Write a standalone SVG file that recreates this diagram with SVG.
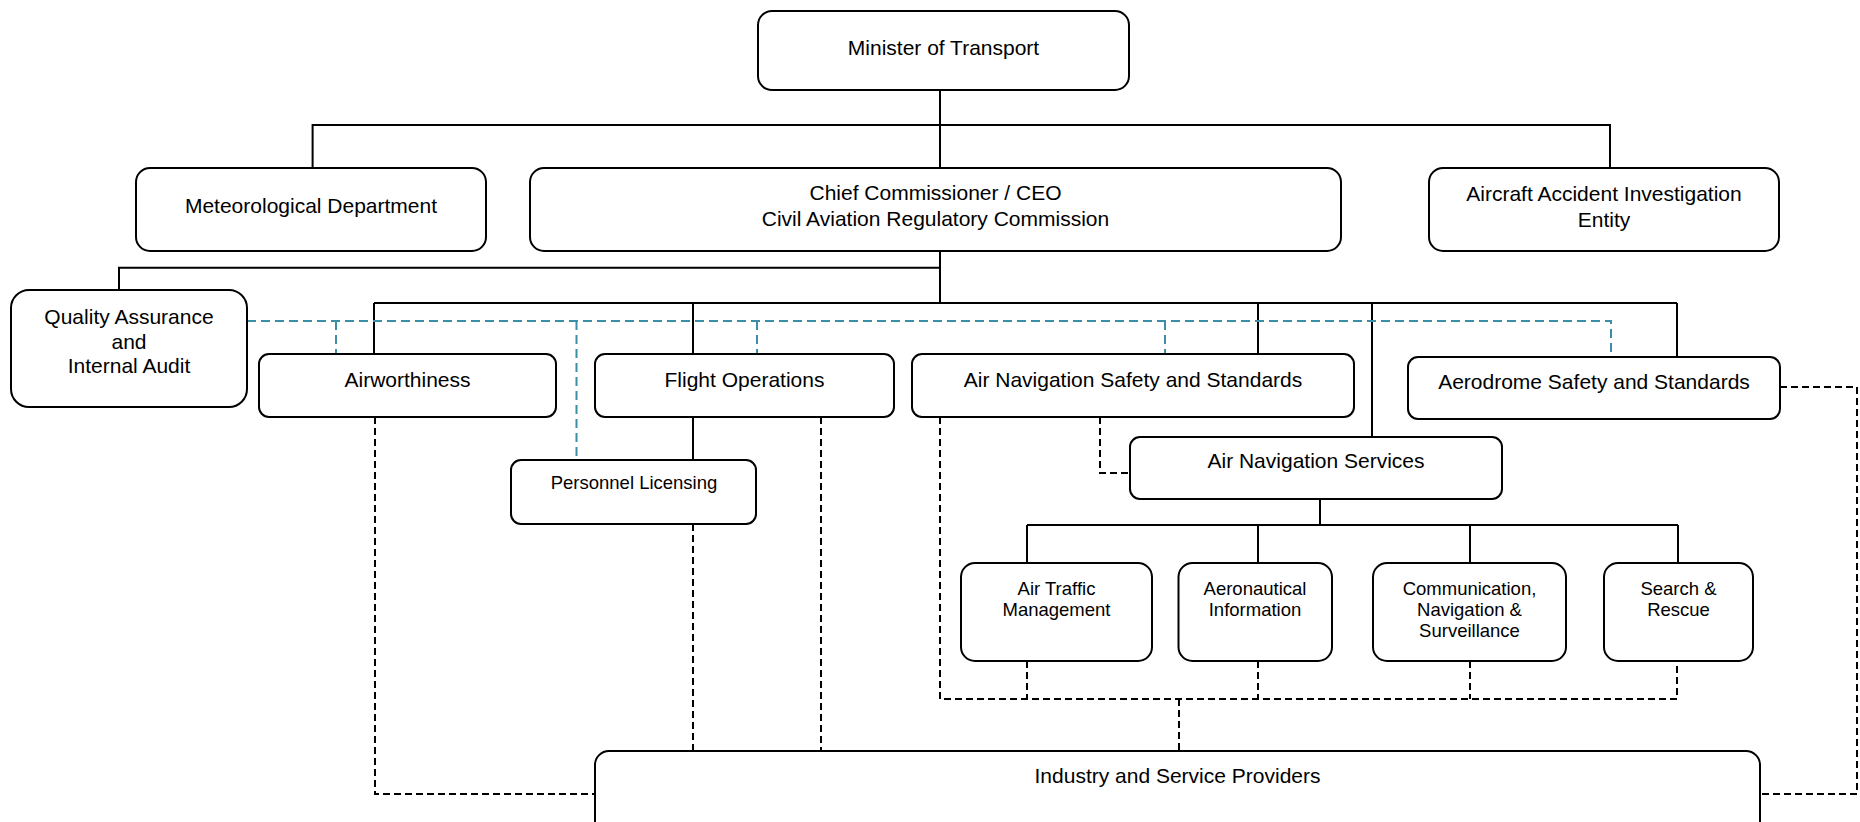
<svg xmlns="http://www.w3.org/2000/svg" width="1860" height="822" viewBox="0 0 1860 822">
<style>
.box{fill:#fff;stroke:#000;stroke-width:2}
.t{font-family:"Liberation Sans",Arial,sans-serif;font-size:21px;fill:#000;text-anchor:middle}
.s{font-family:"Liberation Sans",Arial,sans-serif;font-size:18.5px;fill:#000;text-anchor:middle}
.solid{fill:none;stroke:#000;stroke-width:2}
.dash{fill:none;stroke:#000;stroke-width:2;stroke-dasharray:7 4}
.teal{fill:none;stroke:#3b8ea5;stroke-width:2;stroke-dasharray:9 5}
</style>
<rect width="1860" height="822" fill="#fff"/>
<g id="connectors">
<path class="solid" d="M940 90V168M312.6 168V125H1610V168M940 251V303M940 267.7H119V290M374 303H1677M374 303V354M693 303V354M1258 303V354M1372 303V437M1677 303V357M693 417V460M1320 499V525M1027 525H1678M1027 525V563M1258 525V563M1470 525V563M1678 525V563"/>
<path class="dash" d="M375 417V794H595M693 524V751M821 417V751M940 417V699H1677V661M1027 661V699M1258 661V699M1470 661V699M1179 699V751M1100 417V473H1130M1780 387H1857V794H1760"/>
<path class="teal" d="M247 321H1611V357M336 321V354M576.5 321V460M757 321V354M1165 321V354"/>
</g>
<g id="minister"><rect class="box" x="758" y="11" width="371" height="79" rx="14"/><text class="t" x="943.5" y="54.5">Minister of Transport</text></g>
<g id="meteorological"><rect class="box" x="136" y="168" width="350" height="83" rx="14"/><text class="t" x="311" y="212.5">Meteorological Department</text></g>
<g id="chief"><rect class="box" x="530" y="168" width="811" height="83" rx="14"/><text class="t" x="935.5" y="199.5">Chief Commissioner / CEO</text><text class="t" x="935.5" y="225.5">Civil Aviation Regulatory Commission</text></g>
<g id="aaie"><rect class="box" x="1429" y="168" width="350" height="83" rx="14"/><text class="t" x="1604" y="200.5">Aircraft Accident Investigation</text><text class="t" x="1604" y="226.5">Entity</text></g>
<g id="qa"><rect class="box" x="11" y="290" width="236" height="117" rx="18"/><text class="t" x="129" y="323.5">Quality Assurance</text><text class="t" x="129" y="348.5">and</text><text class="t" x="129" y="372.5">Internal Audit</text></g>
<g id="airworthiness"><rect class="box" x="259" y="354" width="297" height="63" rx="10"/><text class="t" x="407.5" y="386.5">Airworthiness</text></g>
<g id="flightops"><rect class="box" x="595" y="354" width="299" height="63" rx="10"/><text class="t" x="744.5" y="386.5">Flight Operations</text></g>
<g id="anss"><rect class="box" x="912" y="354" width="442" height="63" rx="10"/><text class="t" x="1133" y="386.5">Air Navigation Safety and Standards</text></g>
<g id="adss"><rect class="box" x="1408" y="357" width="372" height="62" rx="10"/><text class="t" x="1594" y="388.5">Aerodrome Safety and Standards</text></g>
<g id="licensing"><rect class="box" x="511" y="460" width="245" height="64" rx="10"/><text class="s" x="634" y="488.5">Personnel Licensing</text></g>
<g id="ans"><rect class="box" x="1130" y="437" width="372" height="62" rx="10"/><text class="t" x="1316" y="467.5">Air Navigation Services</text></g>
<g id="atm"><rect class="box" x="961" y="563" width="191" height="98" rx="14"/><text class="s" x="1056.5" y="594.5">Air Traffic</text><text class="s" x="1056.5" y="615.5">Management</text></g>
<g id="ai"><rect class="box" x="1178.5" y="563" width="153.5" height="98" rx="14"/><text class="s" x="1255" y="594.5">Aeronautical</text><text class="s" x="1255" y="615.5">Information</text></g>
<g id="cns"><rect class="box" x="1373" y="563" width="193" height="98" rx="14"/><text class="s" x="1469.5" y="594.5">Communication,</text><text class="s" x="1469.5" y="615.5">Navigation &amp;</text><text class="s" x="1469.5" y="636.5">Surveillance</text></g>
<g id="sar"><rect class="box" x="1604" y="563" width="149" height="98" rx="14"/><text class="s" x="1678.5" y="594.5">Search &amp;</text><text class="s" x="1678.5" y="615.5">Rescue</text></g>
<g id="isp"><rect class="box" x="595" y="751" width="1165" height="90" rx="14"/><text class="t" x="1177.5" y="782.5">Industry and Service Providers</text></g>
</svg>
